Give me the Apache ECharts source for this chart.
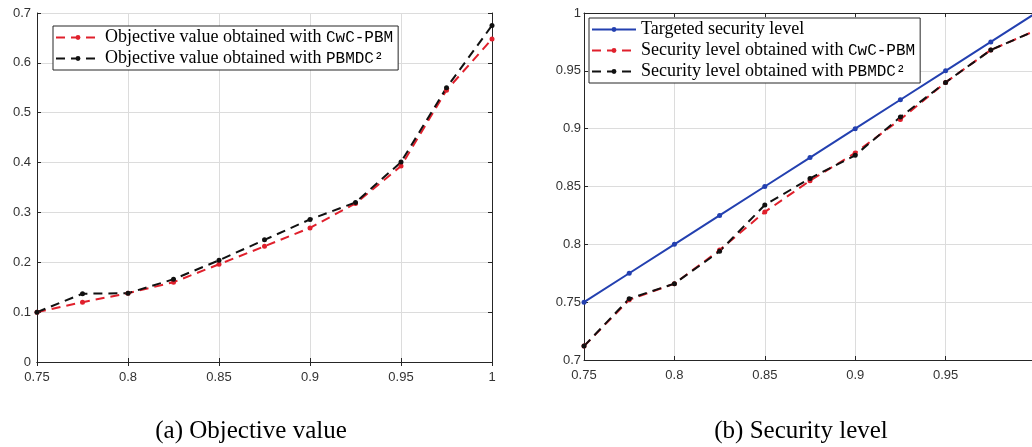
<!DOCTYPE html>
<html>
<head>
<meta charset="utf-8">
<script src="https://cdn.jsdelivr.net/npm/echarts@6/dist/echarts.min.js"></script>
<style>
  html, body { margin: 0; padding: 0; background: #fff; }
  #main { width: 1032px; height: 447px; }
</style>
</head>
<body>
<div id="main"></div>
<script>
// x positions shared by both panels
var xs = [0.75, 0.775, 0.8, 0.825, 0.85, 0.875, 0.9, 0.925, 0.95, 0.975, 1];

// (a) objective value
var objCwc   = [0.100, 0.120, 0.138, 0.160, 0.196, 0.232, 0.269, 0.318, 0.393, 0.545, 0.648];
var objPbmdc = [0.100, 0.137, 0.138, 0.166, 0.204, 0.245, 0.286, 0.320, 0.401, 0.550, 0.675];

// (b) security level
var target   = [0.75, 0.775, 0.8, 0.825, 0.85, 0.875, 0.9, 0.925, 0.95, 0.975, 1];
var secCwc   = [0.712, 0.752, 0.766, 0.795, 0.828, 0.855, 0.879, 0.908, 0.940, 0.968, 0.985];
var secPbmdc = [0.712, 0.753, 0.766, 0.794, 0.834, 0.857, 0.877, 0.910, 0.940, 0.968, 0.985];

var captions = ['(a) Objective value', '(b) Security level'];

function pairs(ys) {
  return xs.map(function (x, i) { return [x, ys[i]]; });
}

var axisColor = '#262626';
var gridColor = '#dcdcdc';
var labelStyle = { color: '#333', fontFamily: 'Liberation Sans', fontSize: 13 };

function xAxisBottom(gi) {
  return {
    type: 'value', gridIndex: gi, min: 0.75, max: 1, interval: 0.05,
    axisLine: { show: true, lineStyle: { color: axisColor } },
    axisTick: { show: true, inside: true, length: 4, lineStyle: { color: axisColor } },
    axisLabel: Object.assign({ margin: 9 }, labelStyle),
    splitLine: { show: true, lineStyle: { color: gridColor } }
  };
}
function xAxisTop(gi) {
  return {
    type: 'value', gridIndex: gi, position: 'top', min: 0.75, max: 1, interval: 0.05,
    axisLine: { show: true, lineStyle: { color: axisColor } },
    axisTick: { show: true, inside: true, length: 4, lineStyle: { color: axisColor } },
    axisLabel: { show: false }, splitLine: { show: false }
  };
}
function yAxisLeft(gi, min, max, step, margin) {
  return {
    type: 'value', gridIndex: gi, min: min, max: max, interval: step,
    axisLine: { show: true, lineStyle: { color: axisColor } },
    axisTick: { show: true, inside: true, length: 4, lineStyle: { color: axisColor } },
    axisLabel: Object.assign({ margin: margin }, labelStyle),
    splitLine: { show: true, lineStyle: { color: gridColor } }
  };
}
function yAxisRight(gi, min, max, step) {
  return {
    type: 'value', gridIndex: gi, position: 'right', min: min, max: max, interval: step,
    axisLine: { show: true, lineStyle: { color: axisColor } },
    axisTick: { show: true, inside: true, length: 4, lineStyle: { color: axisColor } },
    axisLabel: { show: false }, splitLine: { show: false }
  };
}

function lineSeries(name, gi, data, color, dashed) {
  return {
    name: name, type: 'line',
    xAxisIndex: gi * 2, yAxisIndex: gi * 2,
    data: data,
    symbol: 'circle', symbolSize: 5,
    lineStyle: { color: color, width: 2, type: dashed ? [9, 6] : 'solid' },
    itemStyle: { color: color },
    animation: false, z: 3
  };
}

var red = '#e0202c';
var black = '#111111';
var blue = '#2340b0';

var nameA1 = 'Objective value obtained with CwC-PBM';
var nameA2 = 'Objective value obtained with PBMDC²';
var nameB0 = 'Targeted security level';
var nameB1 = 'Security level obtained with CwC-PBM';
var nameB2 = 'Security level obtained with PBMDC²';

function legendFormatter(name) {
  var m = name.match(/^(.*with )(.+)$/);
  if (m) return '{s|' + m[1] + '}{m|' + m[2] + '}';
  return '{s|' + name + '}';
}

var legendText = {
  color: '#000', fontSize: 18, lineHeight: 21,
  rich: {
    s: { fontFamily: 'Liberation Serif', fontSize: 18, color: '#000', lineHeight: 21 },
    m: { fontFamily: 'Liberation Mono', fontSize: 16, color: '#000', lineHeight: 21 }
  }
};

function legendBox(data, left, top) {
  return {
    data: data, orient: 'vertical', left: left, top: top,
    itemWidth: 44, itemHeight: 6, itemGap: 0,
    padding: [1, 5, 1, 2],
    backgroundColor: '#fff', borderColor: '#262626', borderWidth: 1,
    formatter: legendFormatter, textStyle: legendText,
    selectedMode: false
  };
}

var chart = echarts.init(document.getElementById('main'));
chart.setOption({
  backgroundColor: '#fff',
  animation: false,
  grid: [
    { left: 37, top: 13, width: 455, height: 349, outerBoundsMode: 'none' },
    { left: 584, top: 13, width: 452, height: 347, outerBoundsMode: 'none' }
  ],
  xAxis: [xAxisBottom(0), xAxisTop(0), xAxisBottom(1), xAxisTop(1)],
  yAxis: [
    yAxisLeft(0, 0, 0.7, 0.1, 6), yAxisRight(0, 0, 0.7, 0.1),
    yAxisLeft(1, 0.7, 1, 0.05, 3), yAxisRight(1, 0.7, 1, 0.05)
  ],
  legend: [
    legendBox([nameA1, nameA2], 53, 26),
    legendBox([nameB0, nameB1, nameB2], 589, 18)
  ],
  graphic: [
    { type: 'text', x: 251, y: 431, style: { text: captions[0], font: '25px "Liberation Serif"', fill: '#000', textAlign: 'center', textVerticalAlign: 'middle' } },
    { type: 'text', x: 801, y: 431, style: { text: captions[1], font: '25px "Liberation Serif"', fill: '#000', textAlign: 'center', textVerticalAlign: 'middle' } }
  ],
  series: [
    lineSeries(nameA1, 0, pairs(objCwc), red, true),
    lineSeries(nameA2, 0, pairs(objPbmdc), black, true),
    lineSeries(nameB0, 1, pairs(target), blue, false),
    lineSeries(nameB1, 1, pairs(secCwc), red, true),
    lineSeries(nameB2, 1, pairs(secPbmdc), black, true)
  ]
});
</script>
</body>
</html>
